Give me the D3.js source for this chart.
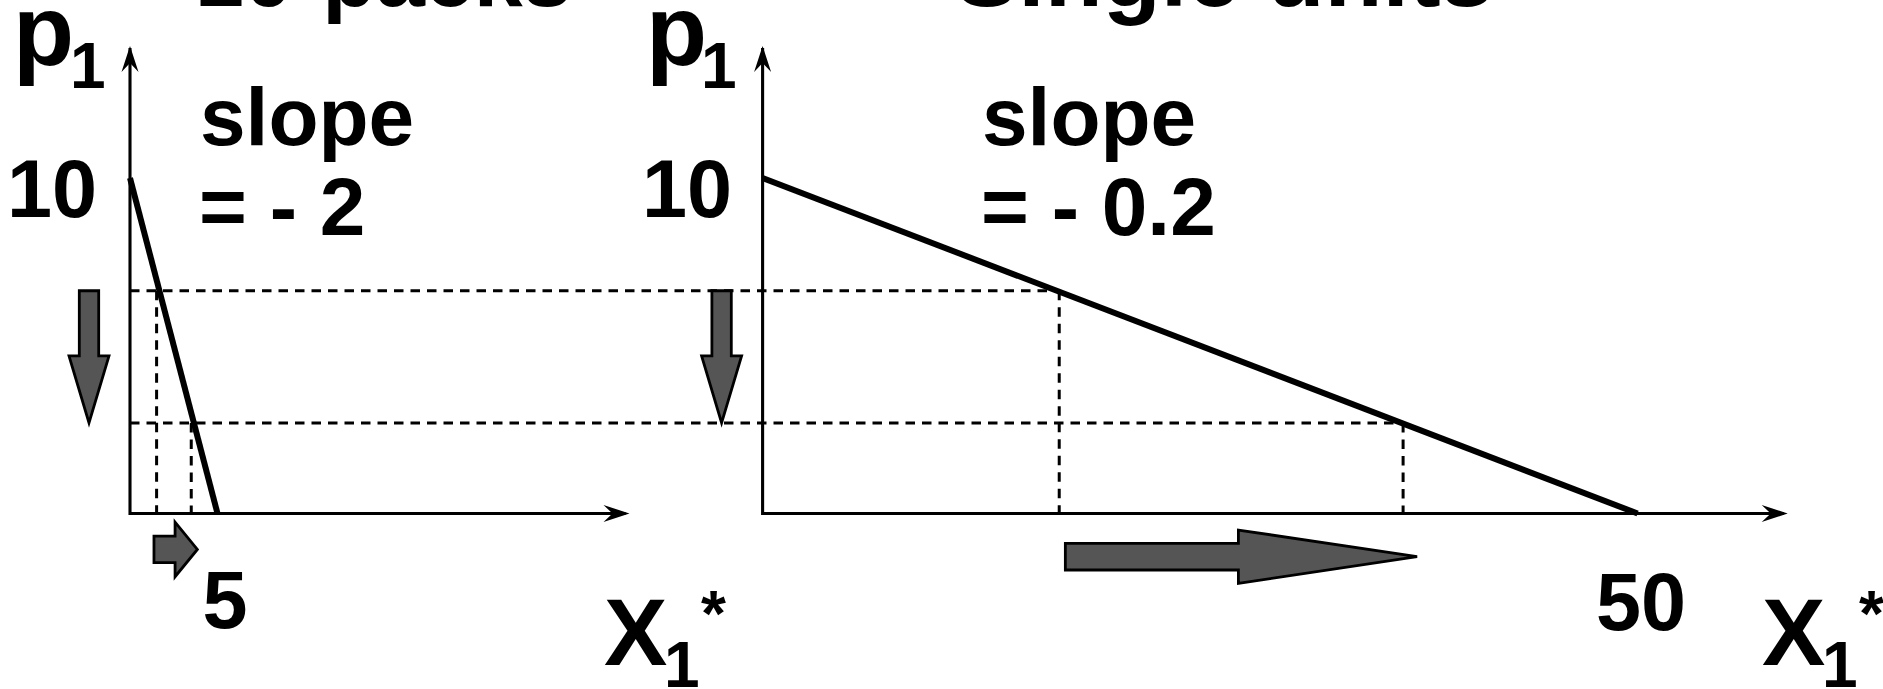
<!DOCTYPE html>
<html>
<head>
<meta charset="utf-8">
<script src="https://cdn.jsdelivr.net/npm/d3@7"></script>
<style>
  html, body { margin: 0; padding: 0; background: #fff; }
  svg { display: block; }
  text { font-family: "Liberation Sans", Arial, sans-serif; font-weight: bold; fill: #000; }
</style>
</head>
<body>
<svg id="chart" width="1883" height="689"></svg>
<script>
// Demand for the same good, counted in 10-packs (left) and in single units (right)
const panelTitles = ["10-packs", "Single units"];
const slopeTexts = ["= - 2", "= - 0.2"];
const chokePrice = 10;                 // price at which quantity demanded is zero
const demandSlopes = [-2, -0.2];
const maxQuantities = [5, 50];         // quantity demanded at a zero price
const priceLevels = [6.64, 2.70];      // the two prices compared (dashed guides)
const dashQtyPacks = [1.52, 3.5];
const dashQtyUnits = [16.95, 36.6];
const qtyArrowPacks = [1.37, 3.85];    // extent of the quantity-change arrows
const qtyArrowUnits = [17.3, 37.4];
const priceTickLabel = "10";
const qtyTickLabels = ["5", "50"];

const svg = d3.select("#chart");
const ARROW_FILL = "#555555";

// Shared price scale; both quantity axes use the same pixels per unit
const y = d3.scaleLinear().domain([0, chokePrice]).range([513.5, 178]);
const pxPerUnit = 17.5;
const panels = [
  { x0: 130,   axisEnd: 629.5,  dashQty: dashQtyPacks, qtyArrow: qtyArrowPacks },
  { x0: 762.6, axisEnd: 1787.7, dashQty: dashQtyUnits, qtyArrow: qtyArrowUnits }
];
panels.forEach((p, i) => {
  p.x = d3.scaleLinear().domain([0, maxQuantities[i]])
          .range([p.x0, p.x0 + maxQuantities[i] * pxPerUnit]);
  p.slope = demandSlopes[i];
});

const gGuides = svg.append("g");
const gAxes = svg.append("g");
const gLines = svg.append("g");
const gArrows = svg.append("g");
const gText = svg.append("g");

// Axis arrowhead: slim barbed head pointing along +x, rotated as needed
function axisHead(g, x, yy, angle) {
  g.append("path")
    .attr("d", "M0,0 L-26,-8.5 L-17,0 L-26,8.5 Z")
    .attr("transform", `translate(${x},${yy}) rotate(${angle})`)
    .attr("fill", "#000");
}

// Dashed horizontal guides spanning both panels, ending on the unit demand line
const right = panels[1];
priceLevels.forEach((pr, k) => {
  gGuides.append("line")
    .attr("x1", panels[0].x0).attr("x2", right.x(dashQtyUnits[k]))
    .attr("y1", y(pr)).attr("y2", y(pr))
    .attr("stroke", "#000").attr("stroke-width", 3)
    .attr("stroke-dasharray", "9.5,7");
});

panels.forEach((p, i) => {
  // vertical dashed guides down to the quantity axis
  p.dashQty.forEach((q, k) => {
    gGuides.append("line")
      .attr("x1", p.x(q)).attr("x2", p.x(q))
      .attr("y1", y(priceLevels[k])).attr("y2", y(0))
      .attr("stroke", "#000").attr("stroke-width", 3)
      .attr("stroke-dasharray", "9.5,7");
  });

  // axes
  gAxes.append("line")
    .attr("x1", p.x0).attr("x2", p.x0).attr("y1", y(0) + 1.5).attr("y2", 48)
    .attr("stroke", "#000").attr("stroke-width", 3.1);
  axisHead(gAxes, p.x0, 46, -90);
  gAxes.append("line")
    .attr("x1", p.x0).attr("x2", p.axisEnd - 4).attr("y1", y(0)).attr("y2", y(0))
    .attr("stroke", "#000").attr("stroke-width", 3.1);
  axisHead(gAxes, p.axisEnd, y(0), 0);

  // linear demand curve p = choke + slope * q
  const pts = [0, maxQuantities[i]].map(q => [q, chokePrice + p.slope * q]);
  gLines.append("path")
    .attr("d", d3.line().x(d => p.x(d[0])).y(d => y(d[1]))(pts))
    .attr("fill", "none").attr("stroke", "#000").attr("stroke-width", 6)
    .attr("stroke-linecap", "butt");

  // price-drop block arrow left of the price axis
  const cx = p.x0 - 41, yTop = y(priceLevels[0]), yTip = y(priceLevels[1]);
  const sh = 9.7, hh = 20, hl = 67;
  gArrows.append("path")
    .attr("d", `M${cx - sh},${yTop} L${cx + sh},${yTop} L${cx + sh},${yTip - hl}
                L${cx + hh},${yTip - hl} L${cx},${yTip} L${cx - hh},${yTip - hl}
                L${cx - sh},${yTip - hl} Z`)
    .attr("fill", ARROW_FILL).attr("stroke", "#000").attr("stroke-width", 2.8)
    .attr("stroke-linejoin", "miter");
});

// quantity-change block arrows below the quantity axes
const qtyArrowStyle = [
  { cy: 549.4, sh: 13.3, hh: 27.3, hl: 22.3 },
  { cy: 556.7, sh: 13.3, hh: 26.7, hl: 178.7 }
];
panels.forEach((p, i) => {
  const s = qtyArrowStyle[i];
  const xs = p.x(p.qtyArrow[0]), xt = p.x(p.qtyArrow[1]), xh = xt - s.hl;
  gArrows.append("path")
    .attr("d", `M${xs},${s.cy - s.sh} L${xh},${s.cy - s.sh} L${xh},${s.cy - s.hh}
                L${xt},${s.cy} L${xh},${s.cy + s.hh} L${xh},${s.cy + s.sh}
                L${xs},${s.cy + s.sh} Z`)
    .attr("fill", ARROW_FILL).attr("stroke", "#000").attr("stroke-width", 2.8)
    .attr("stroke-linejoin", "miter");
});

// text
function label(txt, x, yy, size, anchor) {
  return gText.append("text").attr("x", x).attr("y", yy)
    .attr("font-size", size).attr("text-anchor", anchor || "start").text(txt);
}
const textPos = [
  { title: 195, titleSize: 88, p: 13, sub: 70, tick: 97, slope: 200, xq: 225, qBase: 628, X: 604, Xsub: 664, star: 701 },
  { title: 955, titleSize: 95, p: 646, sub: 701, tick: 732, slope: 982, xq: 1641, qBase: 630, X: 1762, Xsub: 1822, star: 1859 }
];
panels.forEach((p, i) => {
  const t = textPos[i];
  label(panelTitles[i], t.title, 6, t.titleSize);
  label("p", t.p, 65, 100);
  label("1", t.sub, 88, 64);
  label(priceTickLabel, t.tick, y(chokePrice) + 39, 81, "end");
  label("slope", t.slope, 145, 82);
  label(slopeTexts[i], t.slope - 1, 235, 82);
  label(qtyTickLabels[i], t.xq, t.qBase, 81, "middle");
  label("X", t.X, 665, 95);
  label("1", t.Xsub, 687, 64);
  label("*", t.star, 636, 64);
});
</script>
</body>
</html>
